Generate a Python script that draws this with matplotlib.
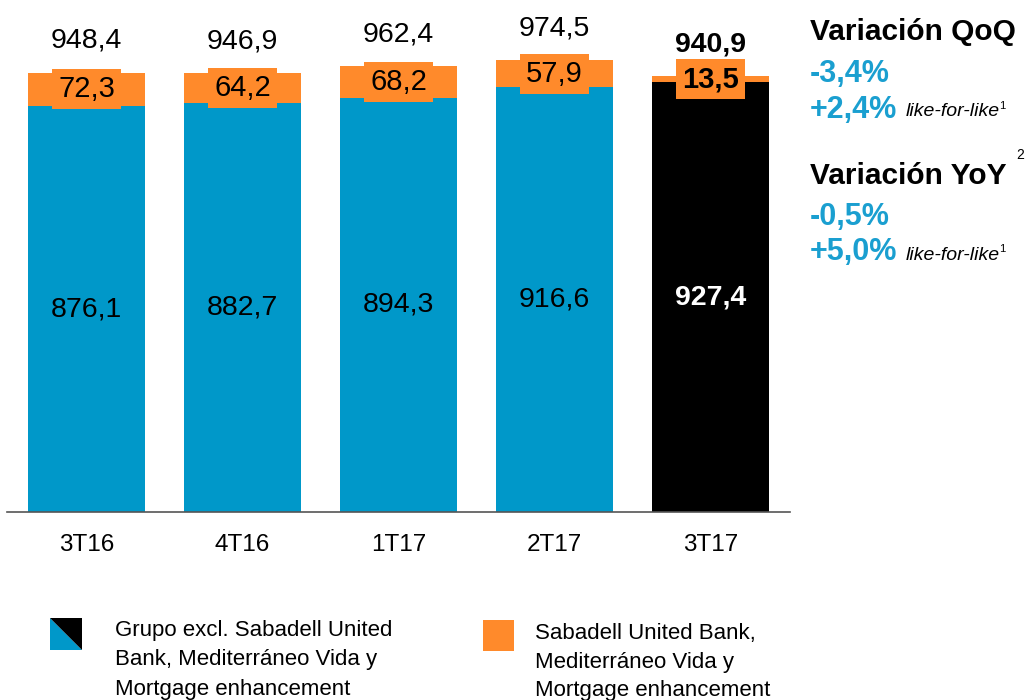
import matplotlib
matplotlib.use("Agg")
import matplotlib.pyplot as plt
from matplotlib.patches import Polygon, Rectangle

plt.rcParams['font.family'] = ['Liberation Sans', 'DejaVu Sans']

quarters = ['3T16', '4T16', '1T17', '2T17', '3T17']
grupo = [876.1, 882.7, 894.3, 916.6, 927.4]
sabadell = [72.3, 64.2, 68.2, 57.9, 13.5]
totals = [948.4, 946.9, 962.4, 974.5, 940.9]

BLUE = '#0098C9'
ORANGE = '#FF8A2B'
TXT_BLUE = '#1A9FD0'

fig = plt.figure(figsize=(10.26, 7), dpi=100)
ax = fig.add_axes([7 / 1026, 188 / 700, 783 / 1026, 1100 * 0.4634 / 700])

x = list(range(len(quarters)))
base_colors = [BLUE] * 4 + ['black']
ax.bar(x, grupo, width=0.745, color=base_colors, zorder=2)
ax.bar(x, sabadell, bottom=grupo, width=0.745, color=ORANGE, zorder=2)

ax.set_xlim(-0.51, 4.51)
ax.set_ylim(0, 1100)
for s in ['top', 'right', 'left']:
    ax.spines[s].set_visible(False)
ax.spines['bottom'].set_color('#555555')
ax.spines['bottom'].set_linewidth(1.2)
ax.set_yticks([])
ax.set_xticks(x)
ax.set_xticklabels(quarters, fontsize=17.5)
ax.tick_params(axis='x', length=0, pad=16)

last = len(quarters) - 1
for i in x:
    bold = 'bold' if i == last else 'normal'
    # blue / black segment value
    ax.text(i, grupo[i] / 2, f"{grupo[i]:.1f}".replace('.', ','),
            ha='center', va='center', fontsize=20.5, fontweight=bold,
            color='white' if i == last else 'black', zorder=3)
    # orange segment value with orange box
    ax.text(i, grupo[i] + sabadell[i] / 2, f"{sabadell[i]:.1f}".replace('.', ','),
            ha='center', va='center', fontsize=21, fontweight=bold, zorder=4,
            bbox=dict(boxstyle='square,pad=0.2', fc=ORANGE, ec='none'))
    # total
    ax.annotate(f"{totals[i]:.1f}".replace('.', ','), (i, grupo[i] + sabadell[i]),
                xytext=(0, 23), textcoords='offset points', ha='center', va='center',
                fontsize=20.5, fontweight=bold, annotation_clip=False)


def fx(px):
    return px / 1026


def fy(py):
    return 1 - py / 700


# right side annotations
fig.text(fx(810), fy(32), 'Variación QoQ', fontsize=21.5, fontweight='bold', va='center')
fig.text(fx(810), fy(74), '-3,4%', fontsize=22, fontweight='bold', color=TXT_BLUE, va='center')
fig.text(fx(810), fy(110), '+2,4%', fontsize=22, fontweight='bold', color=TXT_BLUE, va='center')
fig.text(fx(906), fy(112), 'like-for-like', fontsize=14, style='italic', va='center')
fig.text(fx(999), fy(106), '1', fontsize=8, va='center')

fig.text(fx(810), fy(176), 'Variación YoY', fontsize=21.5, fontweight='bold', va='center')
fig.text(fx(1016), fy(155), '2', fontsize=10, va='center')
fig.text(fx(810), fy(217), '-0,5%', fontsize=22, fontweight='bold', color=TXT_BLUE, va='center')
fig.text(fx(810), fy(252), '+5,0%', fontsize=22, fontweight='bold', color=TXT_BLUE, va='center')
fig.text(fx(906), fy(255), 'like-for-like', fontsize=14, style='italic', va='center')
fig.text(fx(999), fy(249), '1', fontsize=8, va='center')

# legend
l, r, t, b = fx(50), fx(82), fy(618), fy(650)
fig.add_artist(Polygon([(l, t), (l, b), (r, b)], closed=True, fc=BLUE, ec='none',
                       transform=fig.transFigure))
fig.add_artist(Polygon([(l, t), (r, t), (r, b)], closed=True, fc='black', ec='none',
                       transform=fig.transFigure))
fig.text(fx(115), fy(620), 'Grupo excl. Sabadell United\nBank, Mediterráneo Vida y\nMortgage enhancement',
         fontsize=16, va='top', linespacing=1.52, transform=fig.transFigure)

fig.add_artist(Rectangle((fx(483), fy(651)), fx(31), 31 / 700, fc=ORANGE, ec='none',
                         transform=fig.transFigure))
fig.text(fx(535), fy(623), 'Sabadell United Bank,\nMediterráneo Vida y\nMortgage enhancement',
         fontsize=16, va='top', linespacing=1.47, transform=fig.transFigure)

fig.savefig('out.png', dpi=100)
